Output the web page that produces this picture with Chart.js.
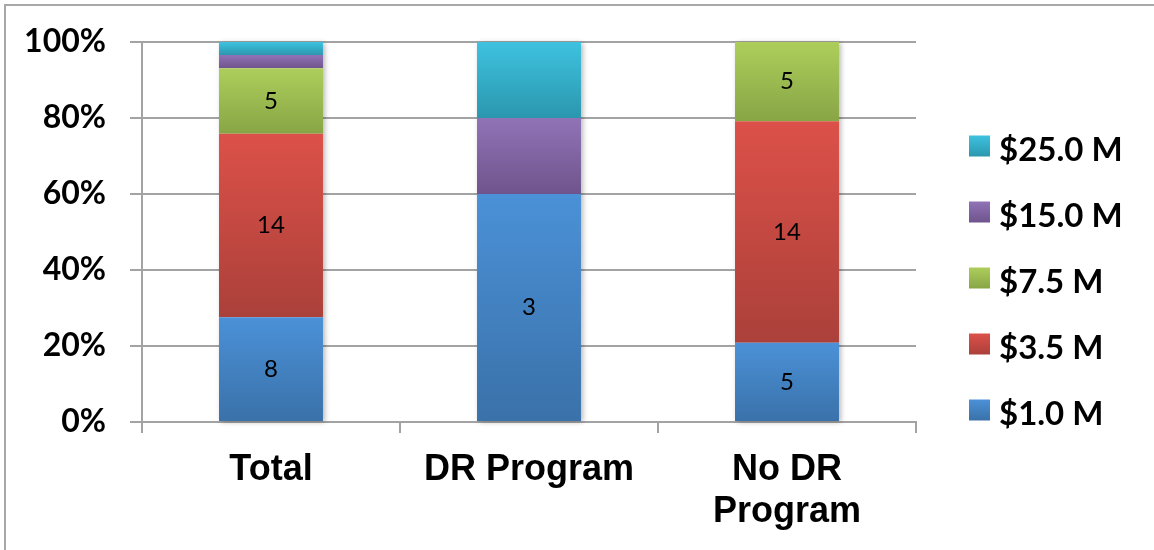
<!DOCTYPE html>
<html>
<head>
<meta charset="utf-8">
<title>Share of outcomes by cap level</title>
<script src="https://cdn.jsdelivr.net/npm/chart.js@4.4.1/dist/chart.umd.min.js"></script>
<style>
  html, body { margin: 0; padding: 0; background: #ffffff; }
  #wrap { position: relative; width: 1154px; height: 550px; }
</style>
</head>
<body>
<div id="wrap"><canvas id="chart" width="1154" height="550"></canvas></div>
<script>
// Groups along the x axis
const categories = ['Total', 'DR Program', ['No DR', 'Program']];

// Cap levels (stacked bottom to top)
const seriesNames = ['$1.0 M', '$3.5 M', '$7.5 M', '$15.0 M', '$25.0 M'];

// Counts per group for each cap level
const counts1_0 = [8, 3, 5];
const counts3_5 = [14, 0, 14];
const counts7_5 = [5, 0, 5];
const counts15_0 = [1, 1, 0];
const counts25_0 = [1, 1, 0];

// Percent axis ticks
const yTickValues = [0, 20, 40, 60, 80, 100];

const countSeries = [counts1_0, counts3_5, counts7_5, counts15_0, counts25_0];

// Gradient stops (top, bottom) for each level
const fillStops = [
  ['#4b91d7', '#3a71a9'],
  ['#dc5149', '#ab403a'],
  ['#adce5b', '#88a545'],
  ['#9073b6', '#6f548c'],
  ['#3ec2e0', '#2b97ae']
];

// Convert counts to shares of each group's total (100% stacking)
const groupTotals = categories.map((_, i) => countSeries.reduce((s, arr) => s + arr[i], 0));
const shareSeries = countSeries.map(arr => arr.map((v, i) => v / groupTotals[i] * 100));

function segmentFill(dsIndex) {
  const [top, bottom] = fillStops[dsIndex];
  return (ctx) => {
    const chart = ctx.chart;
    const y = chart.scales && chart.scales.y;
    if (!y || !chart.chartArea || ctx.type !== 'data') return top;
    const i = ctx.dataIndex;
    let start = 0;
    for (let k = 0; k < dsIndex; k++) start += chart.data.datasets[k].data[i];
    const end = start + chart.data.datasets[dsIndex].data[i];
    const y0 = y.getPixelForValue(end);
    const y1 = y.getPixelForValue(start);
    if (!isFinite(y0) || !isFinite(y1) || y1 - y0 < 1) return top;
    const g = chart.ctx.createLinearGradient(0, y0, 0, y1);
    g.addColorStop(0, top);
    g.addColorStop(1, bottom);
    return g;
  };
}

const datasets = seriesNames.map((name, d) => ({
  label: name,
  data: shareSeries[d],
  counts: countSeries[d],
  backgroundColor: segmentFill(d),
  borderWidth: 0,
  categoryPercentage: 1.0,
  barPercentage: 0.403
}));

const GRID = '#a3a3a3';

// Thin frame along the top and left edges
const framePlugin = {
  id: 'frame',
  beforeDraw(chart) {
    const c = chart.ctx;
    c.save();
    c.strokeStyle = '#a8a8a8';
    c.lineWidth = 2;
    c.beginPath();
    c.moveTo(5, chart.height);
    c.lineTo(5, 5);
    c.lineTo(chart.width, 5);
    c.stroke();
    c.restore();
  }
};

// Soft shadow behind each full stack
const stackShadowPlugin = {
  id: 'stackShadow',
  beforeDatasetsDraw(chart) {
    const c = chart.ctx;
    const n = chart.data.labels.length;
    for (let i = 0; i < n; i++) {
      let top = Infinity, bottom = -Infinity, x = null, w = 0;
      chart.data.datasets.forEach((ds, d) => {
        const el = chart.getDatasetMeta(d).data[i];
        if (!el || !ds.data[i]) return;
        top = Math.min(top, el.y, el.base);
        bottom = Math.max(bottom, el.y, el.base);
        x = el.x; w = el.width;
      });
      if (x === null) continue;
      c.save();
      c.shadowColor = 'rgba(0,0,0,0.28)';
      c.shadowBlur = 5;
      c.shadowOffsetX = 2;
      c.shadowOffsetY = 1;
      c.fillStyle = '#ffffff';
      c.fillRect(x - w / 2, top, w, bottom - top);
      c.restore();
    }
  }
};

// Count labels in the middle of each segment
const countLabelPlugin = {
  id: 'countLabels',
  afterDatasetsDraw(chart) {
    const c = chart.ctx;
    c.save();
    c.font = '24px Lato, "Open Sans", sans-serif';
    c.fillStyle = '#000000';
    c.textAlign = 'center';
    c.textBaseline = 'middle';
    chart.data.datasets.forEach((ds, d) => {
      chart.getDatasetMeta(d).data.forEach((el, i) => {
        const v = ds.counts[i];
        if (v > 1) c.fillText(String(v), el.x, (el.y + el.base) / 2);
      });
    });
    c.restore();
  }
};

// Legend on the right, highest level first
const sideLegendPlugin = {
  id: 'sideLegend',
  afterDraw(chart) {
    const c = chart.ctx;
    const area = chart.chartArea;
    const boxX = area.right + 53;
    const textX = boxX + 30;
    const firstY = 146;
    const step = 66;
    const box = 21;
    c.save();
    c.font = 'bold 33px Lato, "Open Sans", sans-serif';
    c.fillStyle = '#000000';
    c.textAlign = 'left';
    c.textBaseline = 'alphabetic';
    const order = chart.data.datasets.map((_, d) => d).reverse();
    order.forEach((d, row) => {
      const cy = firstY + row * step;
      const [top, bottom] = fillStops[d];
      const g = c.createLinearGradient(0, cy - box / 2, 0, cy + box / 2);
      g.addColorStop(0, top);
      g.addColorStop(1, bottom);
      c.fillStyle = g;
      c.fillRect(boxX, cy - box / 2, box, box);
      c.fillStyle = '#000000';
      c.fillText(chart.data.datasets[d].label, textX, cy + 14.5);
    });
    c.restore();
  }
};

new Chart(document.getElementById('chart'), {
  type: 'bar',
  data: { labels: categories, datasets: datasets },
  options: {
    responsive: false,
    animation: false,
    devicePixelRatio: 1,
    layout: { padding: { top: 42, right: 238, bottom: 0, left: 0 } },
    plugins: {
      legend: { display: false },
      tooltip: { enabled: false }
    },
    scales: {
      x: {
        stacked: true,
        offset: true,
        grid: {
          offset: true,
          drawOnChartArea: false,
          drawTicks: true,
          tickLength: 11,
          color: GRID,
          lineWidth: 2
        },
        border: { display: true, color: GRID, width: 2 },
        ticks: {
          color: '#000000',
          padding: 16,
          font: { family: '"Liberation Sans", Arial, sans-serif', size: 36, weight: 'bold', lineHeight: 1.17 },
          maxRotation: 0,
          autoSkip: false
        },
        afterFit(scale) { scale.height = 128; }
      },
      y: {
        stacked: true,
        min: 0,
        max: 100,
        afterBuildTicks(scale) { scale.ticks = yTickValues.map(v => ({ value: v })); },
        grid: {
          color: GRID,
          lineWidth: 2,
          drawTicks: true,
          tickLength: 12
        },
        border: { display: true, color: GRID, width: 2 },
        ticks: {
          color: '#000000',
          padding: 24,
          font: { family: 'Lato, "Open Sans", sans-serif', size: 32, weight: 'bold' },
          callback: (v) => v + '%'
        },
        afterFit(scale) {
          scale.width = 142;
          scale.paddingTop = 0;
          scale.paddingBottom = 0;
        }
      }
    }
  },
  plugins: [framePlugin, stackShadowPlugin, countLabelPlugin, sideLegendPlugin]
});
</script>
</body>
</html>
